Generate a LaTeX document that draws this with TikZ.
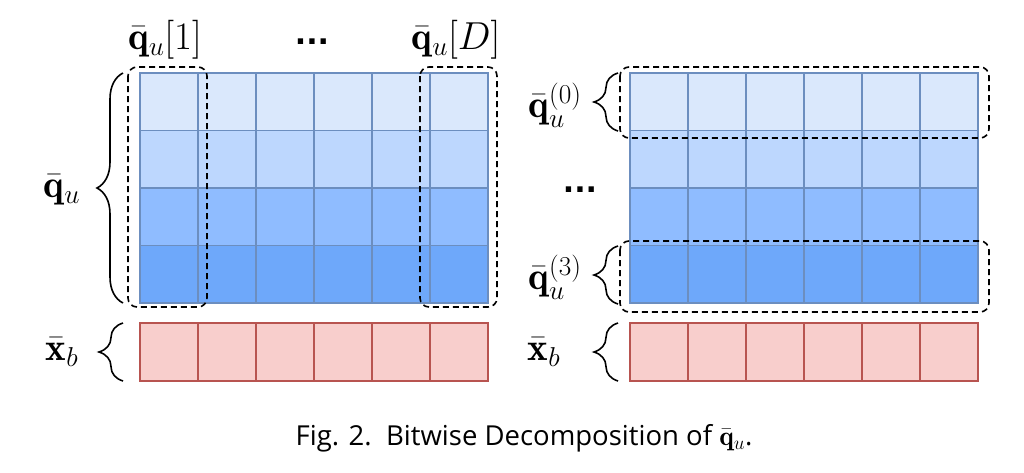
\RequirePackage{fix-cm}
\documentclass[tikz,border=0pt]{standalone}
\usepackage{amsmath}
\usepackage{fontspec}
\newfontfamily\capfont{Open Sans}
\newfontfamily\dotfont{DejaVu Sans}
\usetikzlibrary{decorations.pathreplacing}
\definecolor{b0}{HTML}{DAE8FC}
\definecolor{b1}{HTML}{BDD7FE}
\definecolor{b2}{HTML}{8FBCFF}
\definecolor{b3}{HTML}{6EA8FA}
\definecolor{bd}{HTML}{6C8EBF}
\definecolor{rf}{HTML}{F8CECC}
\definecolor{rd}{HTML}{B85450}
\tikzset{
  cell/.style={draw=bd, line width=1.5pt},
  redcell/.style={draw=rd, fill=rf, line width=1.5pt},
  dbox/.style={draw=black, dashed, dash pattern=on 6pt off 4pt, line width=1.6pt, rounded corners=9pt},
  bracestyle/.style={draw=black, line width=1.6pt, decorate, decoration={brace, amplitude=26pt}},
  smallbrace/.style={draw=black, line width=1.6pt, decorate, decoration={brace, amplitude=24pt}},
  lab/.style={inner sep=0pt, font=\fontsize{39}{46}\selectfont},
  dots/.style={inner sep=0pt, font=\dotfont\bfseries\fontsize{30}{36}\selectfont},
}
\begin{document}
\begin{tikzpicture}[x=1pt,y=-1pt]
\useasboundingbox (0,0) rectangle (1024,472);
% grids
\foreach \r/\c in {0/b0,1/b1,2/b2,3/b3} {
  \foreach \k in {0,...,5} {
    \draw[cell, fill=\c] ({140+58*\k},{73+57.5*\r}) rectangle ++(58,57.5);
    \draw[cell, fill=\c] ({630+58*\k},{73+57.5*\r}) rectangle ++(58,57.5);
  }
}
\foreach \k in {0,...,5} {
  \draw[redcell] ({140+58*\k},323) rectangle ++(58,58);
  \draw[redcell] ({630+58*\k},323) rectangle ++(58,58);
}
% dashed boxes
\draw[dbox] (128,67) rectangle (207,307);
\draw[dbox] (420,67) rectangle (497,307);
\draw[dbox] (620,67) rectangle (989,138);
\draw[dbox] (620,241) rectangle (989,312);
% braces
\draw[bracestyle] (123,303) -- (123,73);
\draw[smallbrace] (123,381) -- (123,323);
\draw[smallbrace] (618,131) -- (618,73);
\draw[smallbrace] (618,304) -- (618,246);
\draw[smallbrace] (618,381) -- (618,323);
% labels
\node[lab] (qu) at (62,190) {$\bar{\mathbf{q}}_u$};
\node[lab] (xbL) at (62,352) {$\bar{\mathbf{x}}_b$};
\node[lab] (q1) at (165,40) {$\bar{\mathbf{q}}_u[1]$};
\node[lab] (qD) at (456,40) {$\bar{\mathbf{q}}_u[D]$};
\node[dots] (dt) at (312,42) {...};
\node[lab] (q0) at (555,105) {$\bar{\mathbf{q}}_u^{(0)}$};
\node[dots] (dr) at (580,190) {...};
\node[lab] (q3) at (555,277) {$\bar{\mathbf{q}}_u^{(3)}$};
\node[lab] (xbR) at (544,352) {$\bar{\mathbf{x}}_b$};
\node[inner sep=0pt, font=\capfont\fontsize{27.5}{32}\selectfont] (cap) at (524,438) {Fig. 2.\ \ Bitwise Decomposition of $\bar{\mathbf{q}}_u$.};
\end{tikzpicture}
\end{document}
